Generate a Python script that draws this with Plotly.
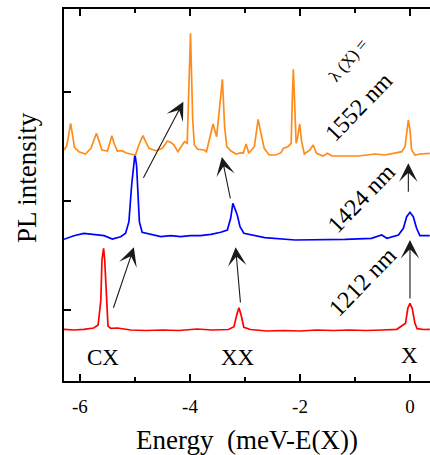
import plotly.graph_objects as go

# Photoluminescence spectra of one dot at three excitation wavelengths,
# energies relative to the exciton line X, curves stacked with an offset.

# 1212 nm spectrum
energy_1212 = [-6.29, -6.11, -5.93, -5.75, -5.67, -5.62, -5.60, -5.57, -5.55, -5.52,
               -5.49, -5.44, -5.32, -5.08, -4.80, -4.50, -4.20, -3.87, -3.60, -3.30,
               -3.20, -3.15, -3.11, -3.07, -3.02, -2.90, -2.60, -2.30, -2.00, -1.70,
               -1.40, -1.10, -0.80, -0.50, -0.24, -0.08, -0.04, 0.00, 0.04, 0.09,
               0.13, 0.25, 0.36]
pl_1212 = [51.7, 51.0, 51.7, 53.0, 56.0, 81.0, 121.0, 132.7, 121.0, 81.0,
           55.0, 52.7, 53.0, 51.0, 50.5, 51.0, 50.5, 52.0, 51.0, 51.5,
           54.3, 66.0, 73.3, 66.0, 53.7, 51.5, 50.0, 50.5, 50.0, 51.0,
           50.5, 51.0, 50.5, 51.0, 51.7, 57.7, 72.7, 77.7, 72.7, 57.7,
           52.3, 51.5, 51.7]

# 1424 nm spectrum
energy_1424 = [-6.29, -6.11, -5.93, -5.75, -5.56, -5.41, -5.26, -5.17, -5.11, -5.06,
               -5.03, -5.00, -4.97, -4.945, -4.92, -4.87, -4.72, -4.53, -4.35, -4.17,
               -3.99, -3.81, -3.62, -3.44, -3.32, -3.26, -3.22, -3.17, -3.14, -3.09,
               -3.02, -2.64, -2.09, -1.18, -0.70, -0.515, -0.42, -0.21, -0.12, -0.06,
               0.00, 0.06, 0.12, 0.18, 0.36]
pl_1424 = [141.7, 145.3, 147.7, 146.7, 145.3, 142.0, 144.3, 147.7, 159.3, 196.0,
           215.0, 227.0, 215.0, 190.0, 159.3, 148.7, 146.7, 144.3, 145.3, 144.3,
           145.3, 145.3, 146.7, 148.7, 151.0, 162.7, 177.7, 169.3, 166.0, 154.3,
           147.7, 143.3, 141.0, 141.7, 142.7, 146.0, 142.7, 146.0, 152.7, 164.3,
           168.7, 164.3, 152.7, 145.3, 145.3]

# 1552 nm spectrum
energy_1552 = [-6.29, -6.24, -6.20, -6.17, -6.13, -6.10, -6.02, -5.90, -5.80, -5.73,
               -5.70, -5.66, -5.60, -5.50, -5.455, -5.42, -5.38, -5.32, -5.23, -5.17,
               -5.08, -4.99, -4.93, -4.855, -4.805, -4.745, -4.62, -4.50, -4.41, -4.34,
               -4.29, -4.22, -4.14, -4.10, -4.05, -4.02, -3.99, -3.95, -3.92, -3.86,
               -3.74, -3.70, -3.64, -3.58, -3.515, -3.47, -3.41, -3.37, -3.33, -3.255,
               -3.16, -3.07, -3.03, -2.98, -2.93, -2.83, -2.76, -2.71, -2.65, -2.56,
               -2.44, -2.345, -2.30, -2.22, -2.16, -2.14, -2.12, -2.07, -2.04, -2.005,
               -1.97, -1.92, -1.82, -1.76, -1.70, -1.58, -1.50, -1.42, -1.18, -0.94,
               -0.64, -0.455, -0.30, -0.15, -0.09, -0.06, -0.03, 0.00, 0.03, 0.09,
               0.18, 0.36]
pl_1552 = [231.0, 235.0, 247.7, 257.7, 244.3, 233.7, 229.3, 227.0, 232.7, 242.7,
           247.7, 241.0, 231.0, 230.0, 237.7, 245.3, 237.7, 230.0, 230.3, 228.3,
           227.0, 226.0, 236.0, 245.3, 239.3, 232.7, 230.3, 232.7, 240.0, 238.3,
           236.0, 229.3, 236.0, 239.3, 237.7, 294.3, 347.7, 261.0, 236.0, 231.7,
           231.0, 229.3, 244.3, 257.0, 244.3, 271.0, 301.7, 254.3, 234.3, 230.0,
           227.0, 228.3, 227.7, 237.0, 227.7, 234.3, 261.7, 247.7, 232.7, 226.0,
           226.0, 228.3, 232.7, 234.3, 237.7, 281.0, 311.7, 237.7, 244.3, 257.0,
           239.3, 227.0, 231.0, 236.0, 227.7, 225.0, 227.7, 225.0, 225.0, 225.0,
           227.0, 226.0, 227.7, 229.3, 234.3, 251.0, 261.0, 251.0, 231.0, 226.0,
           227.0, 227.7]

spectra = [
    (energy_1212, pl_1212, "#FF0000"),
    (energy_1424, pl_1424, "#0000FF"),
    (energy_1552, pl_1552, "#FF8C1A"),
]

# Arrows linking lines between spectra: (head E, head I, tail E, tail I)
arrows = [
    (-5.02, 133.7, -5.40, 71.7),
    (-3.17, 133.7, -3.08, 77.0),
    (0.00, 141.0, 0.00, 81.0),
    (-4.12, 279.3, -4.86, 201.7),
    (-3.42, 224.0, -3.26, 181.0),
    (-0.03, 217.7, -0.03, 187.7),
]

line_labels = ["CX", "XX", "X"]
line_label_pos = [(-5.58, 24.0), (-3.13, 24.0), (-0.01, 26.0)]

wavelength_labels = ["1212 nm", "1424 nm", "1552 nm"]
wavelength_pos = [(-0.87, 99.3), (-0.88, 182.7), (-0.94, 274.3)]

x_ticks = [-6, -4, -2, 0]
y_ticks = [71, 180, 289]

SERIF = "Liberation Serif"

fig = go.Figure()
for e, i, c in spectra:
    fig.add_trace(go.Scatter(x=e, y=i, mode="lines",
                             line=dict(color=c, width=1.7),
                             showlegend=False, hoverinfo="skip"))

for hx, hy, tx, ty in arrows:
    fig.add_annotation(x=hx, y=hy, ax=tx, ay=ty, xref="x", yref="y",
                       axref="x", ayref="y", text="", showarrow=True,
                       arrowhead=3, arrowsize=2.8, arrowwidth=1.1,
                       arrowcolor="#1a1a1a")

for txt, (x, y) in zip(line_labels, line_label_pos):
    fig.add_annotation(x=x, y=y, text=txt, showarrow=False,
                       font=dict(family=SERIF, size=23, color="black"))

for txt, (x, y) in zip(wavelength_labels, wavelength_pos):
    fig.add_annotation(x=x, y=y, text=txt, showarrow=False, textangle=-46,
                       font=dict(family=SERIF, size=24, color="black"))

fig.add_annotation(x=-1.13, y=321, text="λ (X) =", showarrow=False,
                   textangle=-50, font=dict(family=SERIF, size=17, color="black"))

# vertical axis title
fig.add_annotation(x=-0.101, y=0.546, xref="paper", yref="paper",
                   xanchor="center", yanchor="middle",
                   text="PL intensity", showarrow=False, textangle=-90,
                   font=dict(family=SERIF, size=27, color="black"))

fig.update_layout(
    width=430, height=455,
    margin=dict(l=64, r=0, t=9, b=74),
    paper_bgcolor="white", plot_bgcolor="white",
    font=dict(family=SERIF, color="black"),
)
fig.update_xaxes(
    range=[-6.29, 0.364], tickvals=x_ticks, ticktext=[str(v) for v in x_ticks],
    ticks="inside", ticklen=7, tickwidth=1.5, tickcolor="black",
    ticklabelstandoff=7,
    minor=dict(dtick=1, tick0=0, ticks="inside", ticklen=4, tickwidth=1.5,
               tickcolor="black", showgrid=False),
    showline=True, linecolor="black", linewidth=2, mirror="ticks",
    showgrid=False, zeroline=False,
    tickfont=dict(family=SERIF, size=19, color="black"),
    title=dict(text="Energy  (meV-E(X))", standoff=14,
               font=dict(family=SERIF, size=27, color="black")),
)
fig.update_yaxes(
    range=[0, 372], tickvals=y_ticks, showticklabels=False,
    ticks="inside", ticklen=7, tickwidth=1.5, tickcolor="black",
    showline=True, linecolor="black", linewidth=2, mirror=False,
    showgrid=False, zeroline=False,
)

fig.write_html("out.html")
